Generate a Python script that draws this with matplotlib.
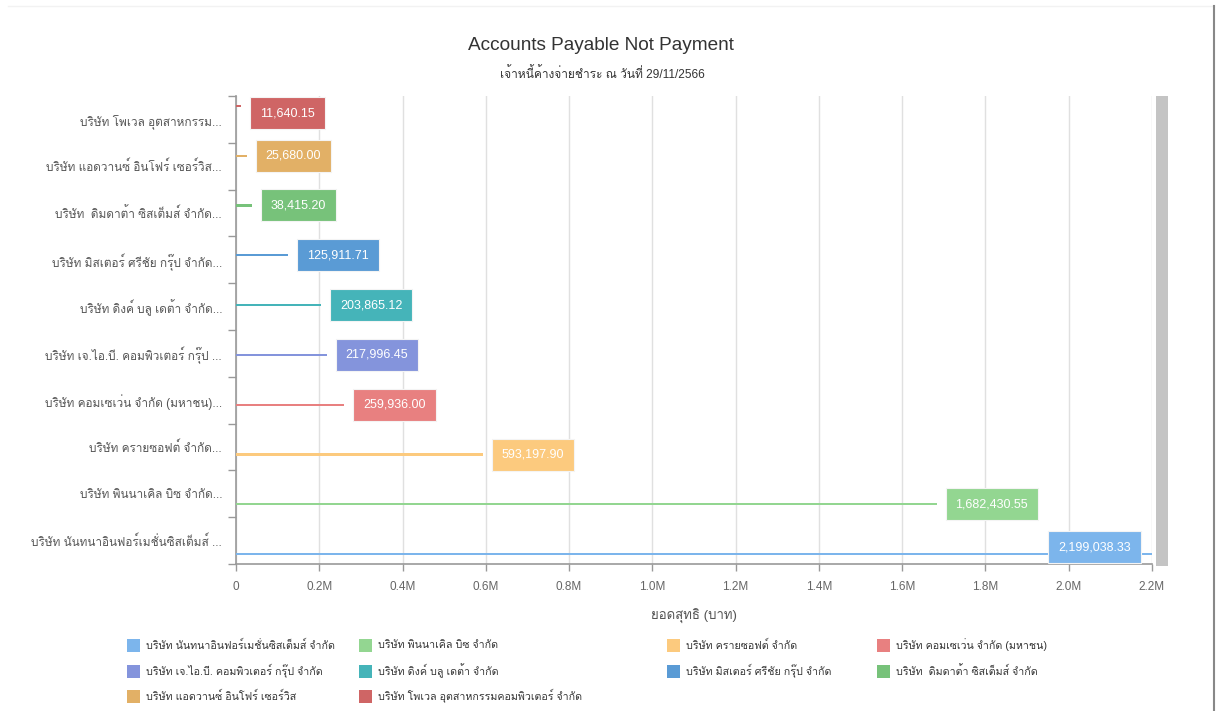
import numpy as np
import matplotlib
matplotlib.use("Agg")
import matplotlib.pyplot as plt
from matplotlib import font_manager
from matplotlib.patches import Rectangle
from matplotlib.lines import Line2D

# Thai text needs a Thai font; Loma is the closest to the Tahoma look of the original
installed = {f.name for f in font_manager.fontManager.ttflist}
THAI = next((p for p in ["Loma", "Noto Sans Thai Looped", "Sarabun", "Noto Sans Thai"] if p in installed),
            "DejaVu Sans")
plt.rcParams["font.family"] = ["Liberation Sans", THAI, "DejaVu Sans"]

companies = [
    "บริษัท นันทนาอินฟอร์เมชั่นซิสเต็มส์ จำกัด",
    "บริษัท พินนาเคิล บิซ จำกัด",
    "บริษัท ครายซอฟต์ จำกัด",
    "บริษัท คอมเซเว่น จำกัด (มหาชน)",
    "บริษัท เจ.ไอ.บี. คอมพิวเตอร์ กรุ๊ป จำกัด",
    "บริษัท ดิงค์ บลู เดต้า จำกัด",
    "บริษัท มิสเตอร์ ศรีชัย กรุ๊ป จำกัด",
    "บริษัท  ดิมดาต้า ซิสเต็มส์ จำกัด",
    "บริษัท แอดวานซ์ อินโฟร์ เซอร์วิส",
    "บริษัท โพเวล อุตสาหกรรมคอมพิวเตอร์ จำกัด",
]
tick_labels = [
    "บริษัท นันทนาอินฟอร์เมชั่นซิสเต็มส์ ...",
    "บริษัท พินนาเคิล บิซ จำกัด...",
    "บริษัท ครายซอฟต์ จำกัด...",
    "บริษัท คอมเซเว่น จำกัด (มหาชน)...",
    "บริษัท เจ.ไอ.บี. คอมพิวเตอร์ กรุ๊ป ...",
    "บริษัท ดิงค์ บลู เดต้า จำกัด...",
    "บริษัท มิสเตอร์ ศรีชัย กรุ๊ป จำกัด...",
    "บริษัท  ดิมดาต้า ซิสเต็มส์ จำกัด...",
    "บริษัท แอดวานซ์ อินโฟร์ เซอร์วิส...",
    "บริษัท โพเวล อุตสาหกรรม...",
]
amounts = [2199038.33, 1682430.55, 593197.90, 259936.00, 217996.45,
           203865.12, 125911.71, 38415.20, 25680.00, 11640.15]
colors = ["#7cb5ec", "#93d691", "#fcca7e", "#e88080", "#8494dc",
          "#45b4b9", "#5a9bd5", "#77c27a", "#e2b066", "#cf6565"]
x_ticks = np.arange(0, 2.2e6 + 1, 0.2e6)

GRID = "#e0e0e0"
AXIS = "#999999"
TXT = "#666666"

fig = plt.figure(figsize=(12.17, 7.11), dpi=100)
ax = fig.add_axes([236 / 1217, 147 / 711, 916 / 1217, 468 / 711])

# one series per company, each sitting in its own slot of the category band
n = len(companies)
step = 0.0644
bar_h = 0.045
labels = []
for j in range(n):
    y = j + (j - (n - 1) / 2) * step
    ax.barh(y, amounts[j], height=bar_h, color=colors[j], zorder=3)
    t = ax.annotate(f"{amounts[j]:,.2f}", xy=(amounts[j], y), xytext=(19, 0),
                    textcoords="offset pixels", ha="left", va="center",
                    color="white", fontsize=9, zorder=5,
                    bbox=dict(boxstyle="square,pad=0.8", facecolor=colors[j],
                              edgecolor="#f4f4f4", linewidth=0.8))
    labels.append(t)

ax.set_xlim(0, 2.2e6)
ax.set_ylim(-0.5, n - 0.5)
ax.set_xticks(x_ticks)
ax.set_xticklabels(["0"] + [f"{v / 1e6:.1f}M" for v in x_ticks[1:]])
ax.set_yticks(np.arange(n))
ax.set_yticklabels(tick_labels)
ax.set_yticks(np.arange(-0.5, n, 1.0), minor=True)
ax.tick_params(axis="y", which="major", length=0, pad=10, labelsize=8.5, labelcolor="#555555")
ax.tick_params(axis="y", which="minor", length=6, color=AXIS, width=1)
ax.tick_params(axis="x", length=5, color=AXIS, width=1, pad=7, labelsize=8.5, labelcolor=TXT)
ax.grid(axis="x", color=GRID, lw=1, zorder=0)
for s in ["top", "right"]:
    ax.spines[s].set_visible(False)
for s in ["left", "bottom"]:
    ax.spines[s].set_color(AXIS)
    ax.spines[s].set_linewidth(1.2)
ax.set_xlabel("ยอดสุทธิ (บาท)", fontsize=9.5, color="#555555", labelpad=12)

# keep value labels inside the plot area
fig.canvas.draw()
r = fig.canvas.get_renderer()
axbox = ax.get_window_extent(r)
for t in labels:
    bb = t.get_bbox_patch().get_window_extent(r)
    dx = dy = 0
    if bb.x1 > axbox.x1 - 11:
        dx = axbox.x1 - 11 - bb.x1
    if bb.y1 > axbox.y1:
        dy = axbox.y1 - bb.y1 - 1
    if bb.y0 < axbox.y0:
        dy = axbox.y0 - bb.y0 + 1
    x0, y0 = t.xyann
    t.xyann = (x0 + dx, y0 + dy)

# slider on the right
fig.add_artist(Rectangle((1156 / 1217, 145 / 711), 12 / 1217, 470 / 711,
                         transform=fig.transFigure, facecolor="#c4c4c4", edgecolor="none"))
# frame lines
fig.add_artist(Line2D([8 / 1217, 1 - 3 / 1217], [1 - 6 / 711, 1 - 6 / 711],
                      transform=fig.transFigure, color="#f2f2f2", lw=1))
fig.add_artist(Line2D([1 - 3.5 / 1217, 1 - 3.5 / 1217], [0, 1 - 6 / 711],
                      transform=fig.transFigure, color="#888888", lw=1.5))

fig.text(601 / 1217, 1 - 46 / 711, "Accounts Payable Not Payment", ha="center", va="center",
         fontsize=13.7, color="#333333")
fig.text(602 / 1217, 1 - 74 / 711, "เจ้าหนี้ค้างจ่ายชำระ ณ วันที่ 29/11/2566", ha="center", va="center",
         fontsize=8.6, color="#333333")

# legend, laid out by hand like the original
leg_x = [127, 359, 667, 877, 127, 359, 667, 877, 127, 359]
leg_y = [645, 645, 645, 645, 671, 671, 671, 671, 696, 696]
for j in range(n):
    fig.add_artist(Rectangle((leg_x[j] / 1217, 1 - (leg_y[j] + 6.5) / 711), 13 / 1217, 13 / 711,
                             transform=fig.transFigure, facecolor=colors[j], edgecolor="none"))
    fig.text((leg_x[j] + 19) / 1217, 1 - leg_y[j] / 711, companies[j], ha="left", va="center",
             fontsize=7.7, color="#333333")

fig.savefig("out.png", dpi=100, facecolor="white")
